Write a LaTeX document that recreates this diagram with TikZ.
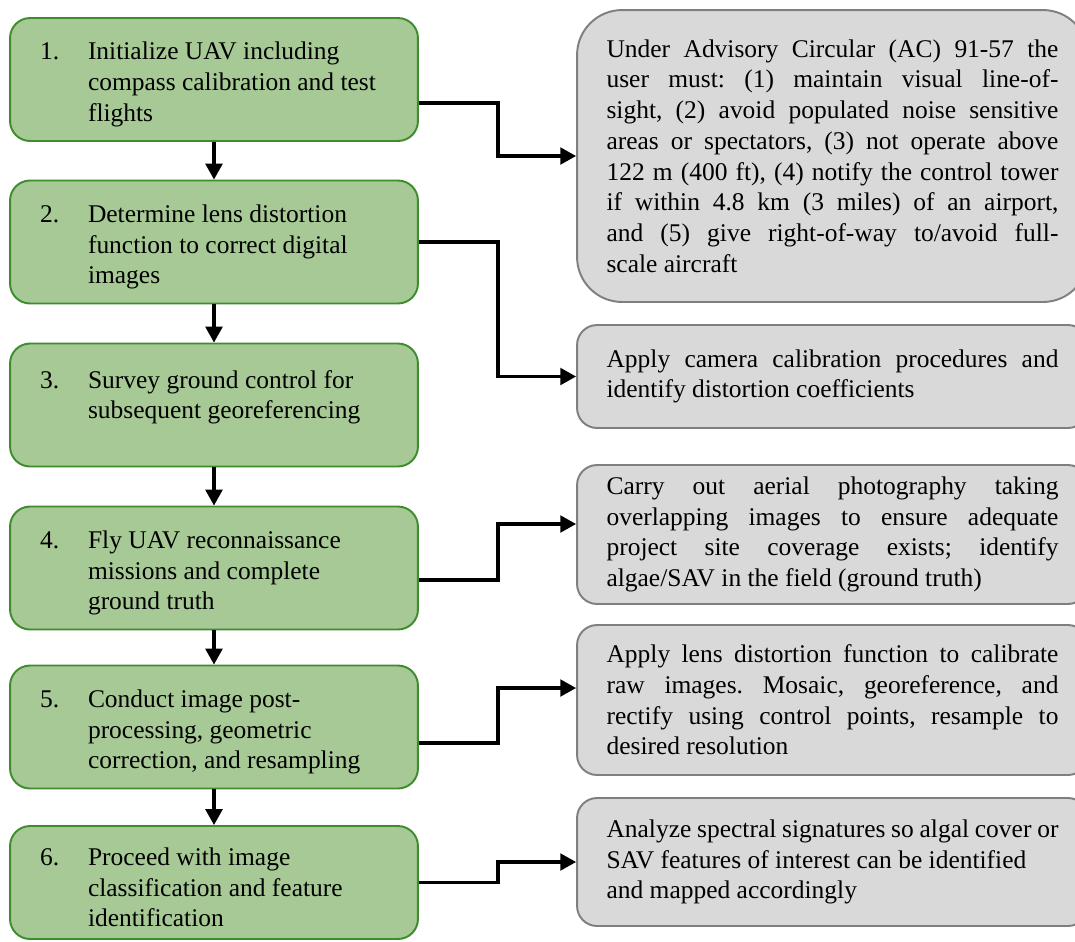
\documentclass[tikz,border=0pt]{standalone}
\usepackage{fontspec}
\setmainfont{Liberation Serif}
\usepackage{tikz}
\usetikzlibrary{arrows.meta}
\definecolor{stepgreen}{RGB}{166,201,149}
\definecolor{stepedge}{RGB}{62,140,46}
\definecolor{notegrey}{RGB}{217,217,217}
\definecolor{noteedge}{RGB}{127,127,127}
\newcommand{\stepitem}[2]{\raisebox{-0.1cm}[\height][\depth]{\makebox[0.96cm][l]{#1}\parbox[t]{6cm}{#2}}}

\begin{document}
\begin{tikzpicture}[x=0.02cm,y=-0.02cm,
  font=\fontsize{14.5}{17.5}\selectfont\frenchspacing,
  stepbox/.style={draw=stepedge,fill=stepgreen,line width=1.1pt,rounded corners=0.4cm,
    minimum width=8.16cm,minimum height=2.46cm,inner sep=0pt},
  notebox/.style={draw=noteedge,fill=notegrey,line width=1.1pt,rounded corners=0.4cm,
    text width=9.04cm,align=justify,minimum width=10.22cm,inner xsep=0pt},
  flow/.style={line width=1.8pt,-{Triangle[length=9pt,width=9.5pt]}}]
  \useasboundingbox (0,0) rectangle (1075,941);
  \clip (0,0) rectangle (1075,941);
  % steps
  \node[stepbox] (s1) at (214,79.5) {\stepitem{1.}{Initialize UAV including\\compass calibration and test\\flights}};
  \node[stepbox] (s2) at (214,242) {\stepitem{2.}{Determine lens distortion\\function to correct digital\\images}};
  \node[stepbox] (s3) at (214,405) {\stepitem{3.}{Survey ground control for\\subsequent georeferencing\\\mbox{}}};
  \node[stepbox] (s4) at (214,568) {\stepitem{4.}{Fly UAV reconnaissance\\missions and complete\\ground truth}};
  \node[stepbox] (s5) at (214,727) {\stepitem{5.}{Conduct image post-\\processing, geometric\\correction, and resampling}};
  \node[stepbox,minimum height=2.26cm] (s6) at (214,882.5) {\stepitem{6.}{Proceed with image\\classification and feature\\identification}};
  % notes
  \node[notebox,rounded corners=0.9cm,minimum height=5.84cm] (n1) at (832.5,156)
    {Under Advisory Circular (AC) 91-57 the\linebreak user must: (1) maintain visual line-of-\linebreak
     sight, (2) avoid populated noise sensitive\linebreak areas or spectators, (3) not operate above\linebreak
     122 m (400 ft), (4) notify the control tower\linebreak if within 4.8 km (3 miles) of an airport,\linebreak
     and (5) give right-of-way to/avoid full-\linebreak scale aircraft};
  \node[notebox,minimum height=2.06cm] (n2) at (832.5,376.5)
    {Apply camera calibration procedures and\linebreak identify distortion coefficients};
  \node[notebox,minimum height=2.78cm] (n3) at (832.5,534.5)
    {Carry out aerial photography taking\linebreak overlapping images to ensure adequate\linebreak
     project site coverage exists; identify\linebreak algae/SAV in the field (ground truth)};
  \node[notebox,minimum height=3cm] (n4) at (832.5,700)
    {Apply lens distortion function to calibrate\linebreak raw images. Mosaic, georeference, and\linebreak
     rectify using control points, resample to\linebreak desired resolution};
  \node[notebox,minimum height=2.56cm] (n5) at (832.5,862)
    {Analyze spectral signatures so algal cover or\\SAV features of interest can be identified\\and mapped accordingly};
  % arrows
  \foreach \a/\b in {s1/s2,s2/s3,s3/s4,s4/s5,s5/s6} \draw[flow] (\a) -- (\b);
  \draw[flow] ([yshift=-0.47cm]s1.east) -- ++(79,0) |- (n1.west);
  \draw[flow] (s2.east) -- ++(79,0) |- (n2.west);
  \draw[flow] ([yshift=-0.24cm]s4.east) -- ++(79,0) |- ([yshift=0.21cm]n3.west);
  \draw[flow] ([yshift=-0.32cm]s5.east) -- ++(79,0) |- ([yshift=0.24cm]n4.west);
  \draw[flow] (s6.east) -- ++(79,0) |- (n5.west);
\end{tikzpicture}
\end{document}
